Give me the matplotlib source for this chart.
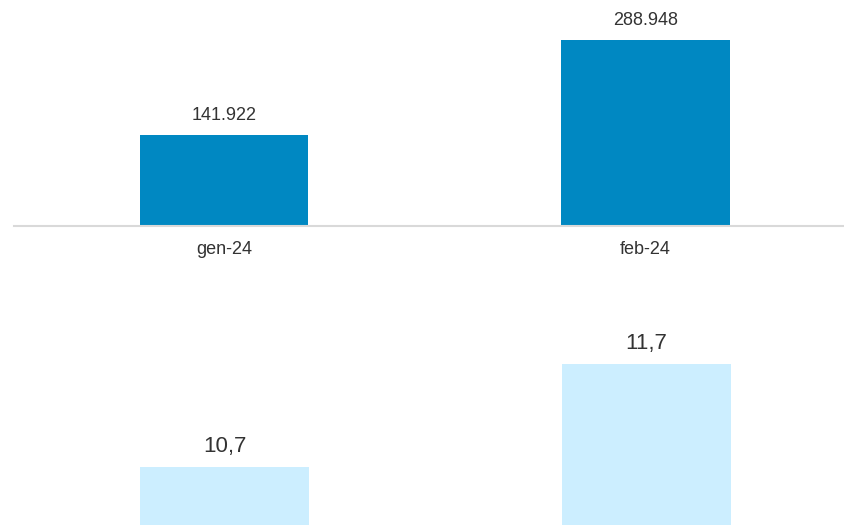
import matplotlib.pyplot as plt

# dati
mesi = ['gen-24', 'feb-24']
valori_top = [141922, 288948]
etichette_top = ['141.922', '288.948']
valori_bottom = [10.7, 11.7]
etichette_bottom = ['10,7', '11,7']

W, H = 844, 525
plt.rcParams['font.family'] = ['Liberation Sans', 'DejaVu Sans']
fig = plt.figure(figsize=(W / 100, H / 100), dpi=100)

left = 14 / W
x = list(range(len(mesi)))
xlim = (-0.498, 1.471)

# grafico superiore
ax1 = fig.add_axes([left, 1 - 226 / H, 1 - left, 226 / H])
ax1.bar(x, valori_top, width=0.4, color='#0088c2')
ax1.set_xlim(*xlim)
ax1.set_ylim(0, 226 / 186 * valori_top[1])
for s in ['top', 'right', 'left']:
    ax1.spines[s].set_visible(False)
ax1.spines['bottom'].set_color('#d9d9d9')
ax1.spines['bottom'].set_linewidth(1.5)
ax1.set_yticks([])
ax1.set_xticks([])
for xi, v, t in zip(x, valori_top, etichette_top):
    ax1.annotate(t, (xi, v), xytext=(0, 15), textcoords='offset pixels',
                 ha='center', va='baseline', fontsize=13, color='#333333')
for xi, m in zip(x, mesi):
    ax1.annotate(m, (xi, 0), xytext=(0, -28), textcoords='offset pixels',
                 ha='center', va='baseline', fontsize=13, color='#333333',
                 annotation_clip=False)

# grafico inferiore
ax2 = fig.add_axes([left, 0, 1 - left, 245 / H])
ax2.bar(x, valori_bottom, width=0.4, color='#cceeff')
ax2.set_xlim(-0.5, 1.469)
ybot = valori_bottom[0] - 58 / 103
ax2.set_ylim(ybot, ybot + 245 / 103)
ax2.axis('off')
for xi, v, t in zip(x, valori_bottom, etichette_bottom):
    ax2.annotate(t, (xi, v), xytext=(0, 15), textcoords='offset pixels',
                 ha='center', va='baseline', fontsize=16, color='#333333')

fig.savefig('out.png', dpi=100)
